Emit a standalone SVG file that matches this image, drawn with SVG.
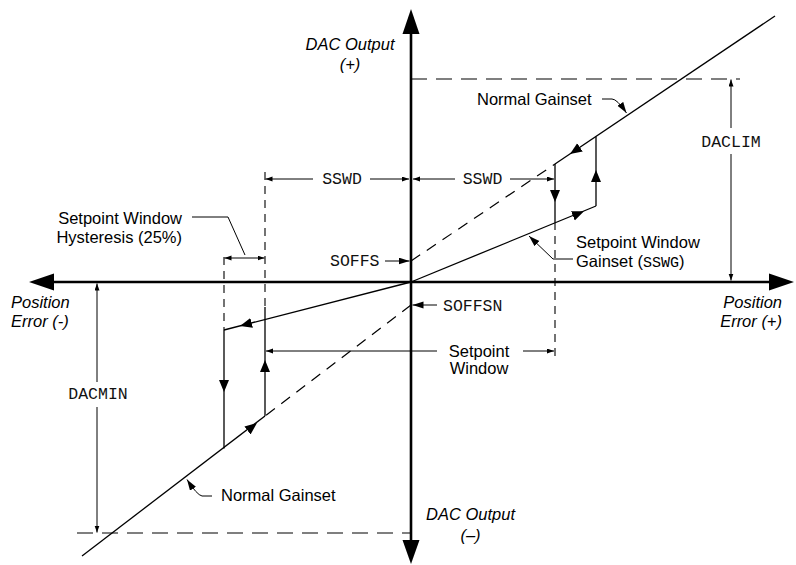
<svg xmlns="http://www.w3.org/2000/svg" width="796" height="565" viewBox="0 0 796 565">
<style>
.lbl{font-family:"Liberation Sans",Arial,sans-serif;font-size:16.5px;fill:#000}
.it{font-style:italic}
.mono{font-family:"Liberation Mono","Courier New",monospace;font-size:16.5px;fill:#111}
.ax{stroke:#000;stroke-width:2.6;fill:none}
.ln{stroke:#000;stroke-width:1.3;fill:none}
.th{stroke:#000;stroke-width:1;fill:none}
.dl{stroke:#000;stroke-width:1.2;fill:none;stroke-dasharray:16 9}
.ds{stroke:#000;stroke-width:1.2;fill:none;stroke-dasharray:11 8}
.dv{stroke:#000;stroke-width:1.1;fill:none;stroke-dasharray:8 6}
.ar{stroke:none;fill:none}
</style>
<defs>
<marker id="tri" markerUnits="userSpaceOnUse" markerWidth="13" markerHeight="11" refX="12" refY="5" orient="auto"><path d="M0,0 L12,5 L0,10 z" fill="#000"/></marker>
<marker id="sm" markerUnits="userSpaceOnUse" markerWidth="8" markerHeight="6" refX="7" refY="2.5" orient="auto-start-reverse"><path d="M0,0 L7,2.5 L0,5 z" fill="#000"/></marker>
<marker id="md" markerUnits="userSpaceOnUse" markerWidth="12" markerHeight="8" refX="11" refY="3.5" orient="auto"><path d="M0,0 L11,3.5 L0,7 z" fill="#000"/></marker>
</defs>

<g id="axes">
<line class="ax" x1="411" y1="32" x2="411" y2="542"/>
<polygon points="411,9 402.5,34 419.5,34" fill="#000"/>
<polygon points="411,564 402.5,540 419.5,540" fill="#000"/>
<line class="ax" x1="52" y1="282" x2="771" y2="282"/>
<polygon points="29,282 54,273.5 54,290.5" fill="#000"/>
<polygon points="794,282 769,273.5 769,290.5" fill="#000"/>
</g>

<g id="curves">
<line class="ds" x1="411" y1="261" x2="555" y2="164"/>
<line class="ln" x1="555" y1="164" x2="775" y2="16"/>
<line class="ln" x1="411" y1="282" x2="596" y2="206"/>
<line class="ln" x1="596" y1="206" x2="596" y2="136.4"/>
<line class="ln" x1="555" y1="164" x2="555" y2="222"/>
<line class="dv" x1="555" y1="222" x2="555" y2="358"/>
<line class="ln" x1="411" y1="282" x2="224" y2="330"/>
<line class="ln" x1="224" y1="330" x2="224" y2="448.4"/>
<line class="ln" x1="265" y1="307" x2="265" y2="416"/>
<line class="dv" x1="265" y1="172" x2="265" y2="307"/>
<line class="dv" x1="224" y1="257" x2="224" y2="330"/>
<line class="ds" x1="411" y1="305" x2="265" y2="416"/>
<line class="ln" x1="265" y1="416" x2="82" y2="556"/>
</g>

<g id="loop-arrows">
<path class="ar" d="M580,147.3 L570,154" marker-end="url(#tri)"/>
<path class="ar" d="M555,190 L555,202" marker-end="url(#tri)"/>
<path class="ar" d="M596,182 L596,170" marker-end="url(#tri)"/>
<path class="ar" d="M572.9,215.8 L584,211.3" marker-end="url(#tri)"/>
<path class="ar" d="M251.6,322.9 L240,325.9" marker-end="url(#tri)"/>
<path class="ar" d="M224,380 L224,392" marker-end="url(#tri)"/>
<path class="ar" d="M265,372 L265,360" marker-end="url(#tri)"/>
<path class="ar" d="M247.5,430.4 L257,423.1" marker-end="url(#tri)"/>
</g>

<g id="dimensions">
<line class="dl" x1="411" y1="79" x2="740" y2="79"/>
<line class="th" x1="731" y1="128" x2="731" y2="79.5" marker-end="url(#sm)"/>
<line class="th" x1="731" y1="154" x2="731" y2="280.5" marker-end="url(#sm)"/>
<line class="dl" x1="77" y1="533" x2="410" y2="533"/>
<line class="th" x1="97" y1="382" x2="97" y2="283.5" marker-end="url(#sm)"/>
<line class="th" x1="97" y1="407" x2="97" y2="532.5" marker-end="url(#sm)"/>
<line class="th" x1="313" y1="179" x2="265.5" y2="179" marker-end="url(#sm)"/>
<line class="th" x1="370" y1="179" x2="409" y2="179" marker-end="url(#sm)"/>
<line class="th" x1="455" y1="179" x2="413" y2="179" marker-end="url(#sm)"/>
<line class="th" x1="510" y1="179" x2="554" y2="179" marker-end="url(#sm)"/>
<line class="th" x1="224.5" y1="258" x2="264.5" y2="258" marker-start="url(#sm)" marker-end="url(#sm)"/>
<line class="th" x1="437" y1="351" x2="266" y2="351" marker-end="url(#sm)"/>
<line class="th" x1="523" y1="351" x2="554" y2="351" marker-end="url(#sm)"/>
</g>

<g id="leaders">
<line class="th" x1="385" y1="261" x2="409.5" y2="261" marker-end="url(#md)"/>
<line class="th" x1="437" y1="305" x2="412.5" y2="305" marker-end="url(#md)"/>
<path class="th" d="M602,99 L612,99 Q617,99 626.5,113" marker-end="url(#md)"/>
<path class="th" d="M212,496 L202,496 Q197,495 187,479.5" marker-end="url(#md)"/>
<path class="th" d="M573,259 L553,259 L529,236" marker-end="url(#md)"/>
<path class="th" d="M192,217 L228,217 L245,255"/>
</g>

<g id="labels">
<text class="lbl it" x="350" y="50" text-anchor="middle">DAC Output</text>
<text class="lbl it" x="350" y="70" text-anchor="middle">(+)</text>
<text class="lbl it" x="470.5" y="520" text-anchor="middle">DAC Output</text>
<text class="lbl it" x="470.5" y="541" text-anchor="middle">(–)</text>
<text class="lbl it" x="11" y="308">Position</text>
<text class="lbl it" x="11" y="327">Error (-)</text>
<text class="lbl it" x="782" y="308" text-anchor="end">Position</text>
<text class="lbl it" x="782" y="327" text-anchor="end">Error (+)</text>
<text class="mono" x="342" y="184" text-anchor="middle">SSWD</text>
<text class="mono" x="482.5" y="184" text-anchor="middle">SSWD</text>
<text class="mono" x="731" y="147" text-anchor="middle">DACLIM</text>
<text class="mono" x="98" y="399" text-anchor="middle">DACMIN</text>
<text class="mono" x="330" y="266">SOFFS</text>
<text class="mono" x="443" y="311">SOFFSN</text>
<text class="lbl" x="477" y="105">Normal Gainset</text>
<text class="lbl" x="221" y="501">Normal Gainset</text>
<text class="lbl" x="576" y="248">Setpoint Window</text>
<text class="lbl" x="576" y="267">Gainset (<tspan font-family="Liberation Mono, monospace" font-size="15">SSWG</tspan>)</text>
<text class="lbl" x="479" y="357" text-anchor="middle">Setpoint</text>
<text class="lbl" x="479" y="374" text-anchor="middle">Window</text>
<text class="lbl" x="182" y="224" text-anchor="end">Setpoint Window</text>
<text class="lbl" x="182" y="243" text-anchor="end">Hysteresis (25%)</text>
</g>
</svg>
